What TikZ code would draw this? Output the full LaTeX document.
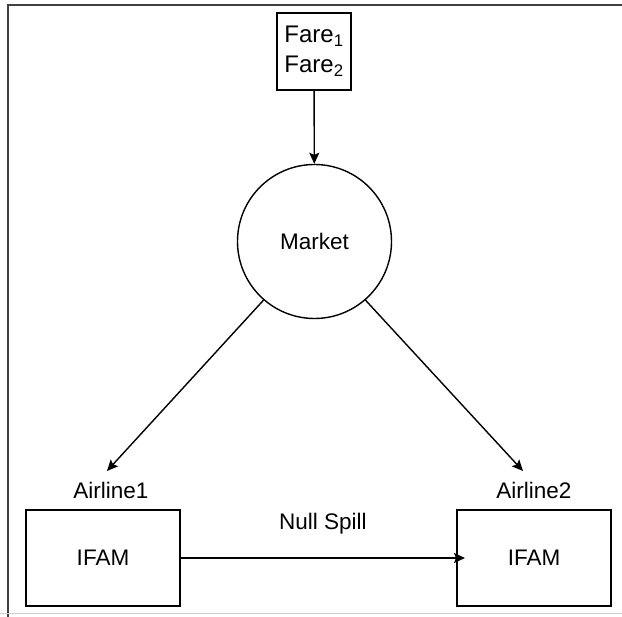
\documentclass[tikz,border=0pt]{standalone}
\usepackage{fontspec}
\setmainfont{Liberation Sans}
\usetikzlibrary{arrows.meta}
\begin{document}
\begin{tikzpicture}[x=1pt,y=-1pt,
  every node/.style={font=\fontsize{22.5}{30}\selectfont, inner sep=0pt},
  boxnode/.style={draw, line width=1.4pt, minimum width=#1, minimum height=96pt},
  conn/.style={line width=1.4pt, -{Stealth[length=11pt,width=10pt,inset=2pt]}}
]
\useasboundingbox (0,0) rectangle (622,617);
% frame
\draw[line width=1.5pt, black!75] (8,617) -- (8,5) -- (622,5);
\draw[line width=1pt, black!20] (0,614) -- (622,614);
% nodes
\node[draw, line width=1.4pt, minimum width=74pt, minimum height=77pt, align=center,
      font=\fontsize{24}{30}\selectfont] (fare) at (314,51.5) {Fare\textsubscript{1}\\Fare\textsubscript{2}};
\node[draw, circle, line width=1.4pt, minimum size=154pt] (market) at (314.5,241.5) {Market};
\node[boxnode=154pt] (ifam1) at (103,558) {IFAM};
\node[boxnode=154pt] (ifam2) at (534,558) {IFAM};
\node (air1) at (111,490) {Airline1};
\node (air2) at (534,490) {Airline2};
\coordinate (tip1) at (107,471);
\coordinate (tip2) at (523,471);
\coordinate (tip3) at (465,558);
% connectors
\draw[conn] (fare) -- (market);
\draw[conn] (market.{229}) -- (tip1);
\draw[conn] (market.{311}) -- (tip2);
\draw[conn] (ifam1.east) -- node[above=23pt] (ns) {Null Spill} (tip3);
\end{tikzpicture}
\end{document}
